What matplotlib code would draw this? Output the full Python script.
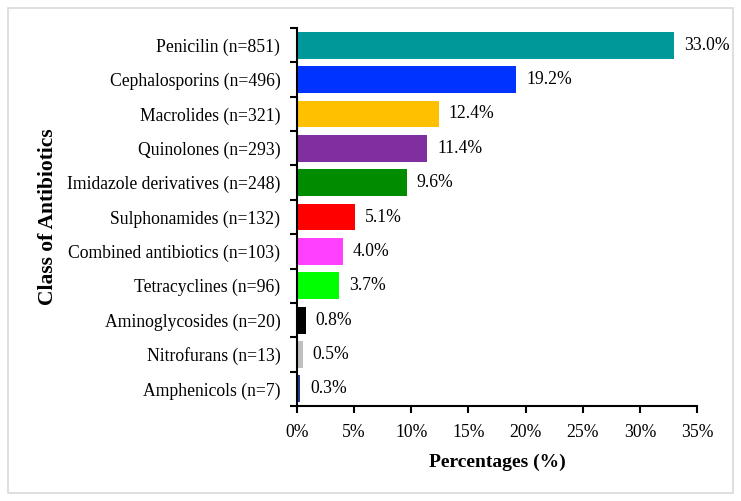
"""Horizontal bar chart of antibiotic classes by share of prescriptions."""
import matplotlib

matplotlib.use("Agg")
import matplotlib.pyplot as plt
from matplotlib.patches import Rectangle
from matplotlib.ticker import FuncFormatter, MultipleLocator

classes = [
    "Penicilin (n=851)",
    "Cephalosporins (n=496)",
    "Macrolides (n=321)",
    "Quinolones (n=293)",
    "Imidazole derivatives (n=248)",
    "Sulphonamides (n=132)",
    "Combined antibiotics (n=103)",
    "Tetracyclines (n=96)",
    "Aminoglycosides (n=20)",
    "Nitrofurans (n=13)",
    "Amphenicols (n=7)",
]
percentages = [33.0, 19.2, 12.4, 11.4, 9.6, 5.1, 4.0, 3.7, 0.8, 0.5, 0.3]
bar_colors = [
    "#009999", "#0033FF", "#FFC000", "#7F2FA0", "#008C00", "#FF0000",
    "#FF40FF", "#00FF00", "#000000", "#BFBFBF", "#1F3A8F",
]

plt.rcParams["font.family"] = ["Liberation Serif", "DejaVu Serif"]

fig = plt.figure(figsize=(7.41, 5.01), dpi=100)
ax = fig.add_axes([0.4008, 0.1896, 0.5398, 0.7545])

# light grey frame round the whole figure
fig.patches.append(
    Rectangle((0.011, 0.016), 0.978, 0.968, transform=fig.transFigure,
              fill=False, edgecolor="#D9D9D9", linewidth=1.2)
)

ypos = list(range(len(classes)))
ax.barh(ypos, percentages, height=0.78, color=bar_colors)
for y, v in zip(ypos, percentages):
    ax.annotate(f"{v:.1f}%", xy=(v, y), xytext=(7, 0), textcoords="offset points",
                va="center", ha="left", fontsize=12.7)

ax.set_ylim(len(classes) - 0.5, -0.5)
ax.set_xlim(0, 35)
ax.set_yticks(ypos)
ax.set_yticklabels(classes, fontsize=12.7)
ax.set_yticks([y - 0.5 for y in ypos] + [len(classes) - 0.5], minor=True)
ax.tick_params(axis="y", which="major", length=0, pad=12)
ax.tick_params(axis="y", which="minor", length=5, width=1.5, direction="out")
ax.xaxis.set_major_locator(MultipleLocator(5))
ax.xaxis.set_major_formatter(FuncFormatter(lambda x, _: f"{x:.0f}%"))
ax.tick_params(axis="x", length=5, width=1.5, direction="out", labelsize=12.7, pad=8)

for side in ("top", "right"):
    ax.spines[side].set_visible(False)
for side in ("left", "bottom"):
    ax.spines[side].set_linewidth(1.5)

ax.set_xlabel("Percentages (%)", fontsize=14, fontweight="bold", labelpad=9)
ax.set_ylabel("Class of Antibiotics", fontsize=15.5, fontweight="bold")
ax.yaxis.set_label_coords(-0.598, 0.5)

fig.savefig("out.png", dpi=100)
